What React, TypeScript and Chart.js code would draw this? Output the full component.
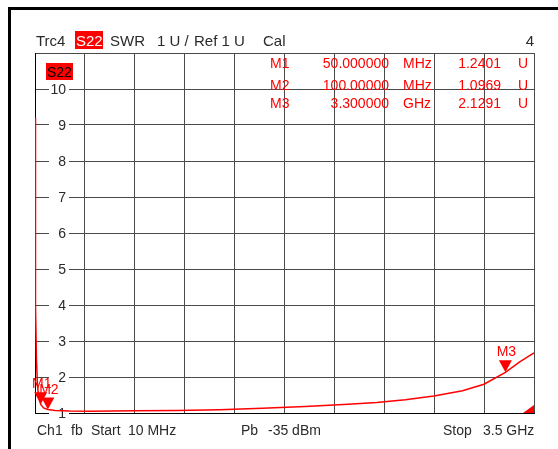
import React, { useEffect, useRef } from "react";
import { Chart, registerables } from "chart.js";

Chart.register(...registerables);

// ---- data ----
const freqMHz = [10, 12, 15, 20, 27, 35, 50, 70, 100, 150, 250, 400, 700, 1000, 1300, 1600, 1900, 2200, 2400, 2600, 2800, 3000, 3150, 3300, 3400, 3500];
const swrValues = [9.2, 6.8, 4.0, 2.5, 1.8, 1.45, 1.24, 1.14, 1.097, 1.07, 1.055, 1.05, 1.06, 1.07, 1.09, 1.13, 1.18, 1.24, 1.29, 1.37, 1.47, 1.62, 1.8, 2.13, 2.42, 2.67];
const startMHz = 10;
const stopMHz = 3500;
const xDivisions = 10;
const yMin = 1;
const yMax = 11;
const yTickLabels = [1, 2, 3, 4, 5, 6, 7, 8, 9, 10];

const markerNames = ["M1", "M2", "M3"];
const markerFreqMHz = [50, 100, 3300];
const markerSwr = [1.2401, 1.0969, 2.1291];
const markerFreqText = ["50.000000", "100.00000", "3.300000"];
const markerUnitText = ["MHz", "MHz", "GHz"];
const markerValueText = ["1.2401", "1.0969", "2.1291"];

const headerTexts = { trace: "Trc4", param: "S22", format: "SWR", scale: "1 U /", ref: "Ref 1 U", cal: "Cal", num: "4" };
const footerTexts = { ch: "Ch1", fb: "fb", start: "Start", startVal: "10 MHz", pb: "Pb", pbVal: "-35 dBm", stop: "Stop", stopVal: "3.5 GHz" };

const FONT = '"Liberation Sans", Arial, Helvetica, sans-serif';
const TEXT = "#2a2a2a";
const RED = "#ff0000";

const overlayPlugin = {
  id: "vnaOverlay",
  beforeDatasetsDraw(chart: any) {
    const ctx = chart.ctx;
    const y = chart.scales.y;
    const area = chart.chartArea;
    ctx.save();
    // y tick labels inside the plot with white backing
    ctx.font = `14px ${FONT}`;
    ctx.textAlign = "right";
    ctx.textBaseline = "middle";
    yTickLabels.forEach((v) => {
      const py = y.getPixelForValue(v);
      ctx.fillStyle = "#fff";
      ctx.fillRect(area.left + 14, Math.round(py) - 6, 20, 12);
      ctx.fillStyle = TEXT;
      ctx.fillText(String(v), area.left + 31, py + 1);
    });
    // S22 tag in plot
    ctx.fillStyle = RED;
    ctx.fillRect(area.left + 11, area.top + 10, 27, 17);
    ctx.fillStyle = "#000";
    ctx.textAlign = "left";
    ctx.textBaseline = "alphabetic";
    ctx.font = `14px ${FONT}`;
    ctx.fillText(headerTexts.param, area.left + 12, area.top + 24);
    ctx.restore();
  },
  afterDatasetsDraw(chart: any) {
    const ctx = chart.ctx;
    const xs = chart.scales.x;
    const ys = chart.scales.y;
    const area = chart.chartArea;
    ctx.save();
    // markers on trace
    ctx.fillStyle = RED;
    ctx.font = `14px ${FONT}`;
    ctx.textAlign = "center";
    ctx.textBaseline = "alphabetic";
    markerNames.forEach((name, i) => {
      const px = xs.getPixelForValue(markerFreqMHz[i]);
      const py = ys.getPixelForValue(markerSwr[i]);
      ctx.beginPath();
      ctx.moveTo(px, py);
      ctx.lineTo(px - 6.5, py - 12);
      ctx.lineTo(px + 6.5, py - 12);
      ctx.closePath();
      ctx.fill();
      ctx.fillText(name, px + 1, py - 16);
    });
    // corner indicator
    ctx.beginPath();
    ctx.moveTo(area.right, area.bottom);
    ctx.lineTo(area.right - 11, area.bottom);
    ctx.lineTo(area.right, area.bottom - 8);
    ctx.closePath();
    ctx.fill();
    // marker table
    const rowBase = [68, 90, 108];
    markerNames.forEach((name, i) => {
      const b = rowBase[i];
      ctx.textAlign = "left";
      ctx.fillText(name, 270, b);
      ctx.textAlign = "right";
      ctx.fillText(markerFreqText[i], 389, b);
      ctx.textAlign = "left";
      ctx.fillText(markerUnitText[i], 403, b);
      ctx.textAlign = "right";
      ctx.fillText(markerValueText[i], 501, b);
      ctx.textAlign = "left";
      ctx.fillText("U", 518, b);
    });
    ctx.restore();
  },
  afterDraw(chart: any) {
    const ctx = chart.ctx;
    ctx.save();
    // outer frame
    ctx.fillStyle = "#000";
    ctx.fillRect(8, 7, 550, 3);
    ctx.fillRect(8, 7, 3, 442);
    // header
    ctx.font = `15px ${FONT}`;
    ctx.textBaseline = "alphabetic";
    ctx.textAlign = "left";
    ctx.fillStyle = TEXT;
    ctx.fillText(headerTexts.trace, 36, 46);
    ctx.fillStyle = RED;
    ctx.fillRect(75, 31, 28, 18);
    ctx.fillStyle = "#fff";
    ctx.fillText(headerTexts.param, 76, 46);
    ctx.fillStyle = TEXT;
    ctx.fillText(headerTexts.format, 110, 46);
    ctx.fillText(headerTexts.scale, 157, 46);
    ctx.fillText(headerTexts.ref, 194, 46);
    ctx.fillText(headerTexts.cal, 263, 46);
    ctx.textAlign = "right";
    ctx.fillText(headerTexts.num, 534, 46);
    // footer
    ctx.font = `14px ${FONT}`;
    ctx.textAlign = "left";
    const fb = 435;
    ctx.fillText(footerTexts.ch, 37, fb);
    ctx.fillText(footerTexts.fb, 71, fb);
    ctx.fillText(footerTexts.start, 91, fb);
    ctx.fillText(footerTexts.startVal, 128, fb);
    ctx.fillText(footerTexts.pb, 241, fb);
    ctx.fillText(footerTexts.pbVal, 268, fb);
    ctx.fillText(footerTexts.stop, 443, fb);
    ctx.fillText(footerTexts.stopVal, 483, fb);
    ctx.restore();
  },
};

export default function App() {
  const ref = useRef<HTMLCanvasElement | null>(null);
  useEffect(() => {
    if (!ref.current) return;
    const gridValues: number[] = [];
    for (let i = 0; i <= xDivisions; i++) gridValues.push(startMHz + ((stopMHz - startMHz) * i) / xDivisions);
    const chart = new Chart(ref.current, {
      type: "line",
      data: {
        datasets: [
          {
            data: freqMHz.map((f, i) => ({ x: f, y: swrValues[i] })),
            borderColor: RED,
            borderWidth: 1.5,
            pointRadius: 0,
            tension: 0,
            fill: false,
          },
        ],
      },
      options: {
        responsive: false,
        animation: false,
        layout: { padding: { left: 35, right: 24, top: 53, bottom: 36 } },
        plugins: { legend: { display: false }, tooltip: { enabled: false }, title: { display: false } },
        scales: {
          x: {
            type: "linear",
            min: startMHz,
            max: stopMHz,
            afterBuildTicks: (s: any) => {
              s.ticks = gridValues.map((v) => ({ value: v }));
            },
            afterFit: (s: any) => {
              s.height = 0;
            },
            ticks: { display: false },
            grid: { color: "#4a4a4a", lineWidth: 1, drawTicks: false },
            border: { display: true, color: "#000", width: 1 },
          },
          y: {
            type: "linear",
            min: yMin,
            max: yMax,
            afterFit: (s: any) => {
              s.width = 0;
            },
            ticks: { display: false, stepSize: 1 },
            grid: { color: "#4a4a4a", lineWidth: 1, drawTicks: false },
            border: { display: true, color: "#000", width: 1 },
          },
        },
      },
      plugins: [overlayPlugin],
    });
    return () => chart.destroy();
  }, []);
  return (
    <div style={{ position: "fixed", left: 0, top: 0, width: 558, height: 449, background: "#fff" }}>
      <canvas ref={ref} width={558} height={449} style={{ display: "block" }} />
    </div>
  );
}
